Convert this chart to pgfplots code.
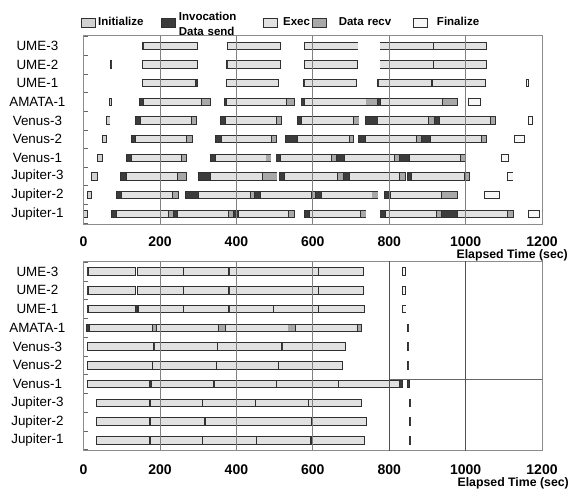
\documentclass[border=0pt]{standalone}
\usepackage{pgfplots}
\pgfplotsset{compat=1.18}
\usepackage{pgfplotstable}
\usepackage{fontspec}
\setmainfont{Liberation Sans}

\definecolor{bordercol}{HTML}{303030}
\definecolor{initcol}{HTML}{D2D2D2}
\definecolor{invcol}{HTML}{3C3C3C}
\definecolor{execcol}{HTML}{E1E1E1}
\definecolor{recvcol}{HTML}{A8A8A8}
\definecolor{fincol}{HTML}{F7F7F7}
\definecolor{gridcol}{HTML}{808080}
\definecolor{axiscol}{HTML}{8C8C8C}
\definecolor{darkgrid}{HTML}{505050}

% ---------------- top chart data (row, start, end) ----------------
\pgfplotstableread{
r s e
6 68 73
5 60 69
4 50 59
3 37 50
2 21 37
1 10.5 21
0 0 10.5
}\TopInit
\pgfplotstableread{
r s e
9 153 156.6
8 71 74
8 374 377
7 294 298
7 575.8 579
7 770 773
6 147 156
6 368 375
6 569 578
6 770 777
5 135 148
5 358.4 370.6
5 559 570.6
5 737.5 770.6
5 917.6 930.6
4 124.5 136
4 344.5 360
4 528.8 559.2
4 718.4 738.4
4 885.4 909
3 112.3 125.3
3 332.3 345.4
3 503.6 515.8
3 662.7 682.7
3 826.3 854
2 97.5 113.2
2 300 332.3
2 513 527
2 681 695.8
2 847 859.3
1 87 99.2
1 267 300
1 448 462.7
1 608 622
1 787 803
0 72.3 87
0 234.9 245.3
0 393.2 405
0 578.4 591.4
0 776 789.8
0 936 977.6
}\TopInv
\pgfplotstableread{
r s e
9 156.6 297.6
9 375.8 514.9
9 579.3 718.4
9 775.8 915
9 915 1055
8 153 297.6
8 377 515
8 579 718
8 776 915
8 915 1055
7 153 294
7 374 511.4
7 579 715
7 773 909.8
7 913 1052
6 156 309
6 375 532
6 578 739.3
6 777 939
5 148 283
5 370.6 504.5
5 570.6 706
5 770.6 902.8
5 930.6 1065.5
4 136 269.7
4 360 491.4
4 559.2 696
4 738.4 872.4
4 909 1042
3 125.3 256.7
3 345.4 477.5
3 515.8 649.7
3 682.7 813.2
3 854 987
2 113.2 245.3
2 332.3 468
2 527 664.5
2 695.8 828
2 859.3 996
1 99.2 233
1 300 436.6
1 462.7 595.8
1 622 755
1 803 937.6
0 87 221.9
0 245.3 378.4
0 405 537.5
0 591.4 724.5
0 789.8 923.7
0 977.6 1109
}\TopExec
\pgfplotstableread{
r s e
6 309 332
6 532 553
6 739.3 770
6 939 977.6
5 283 296
5 504.5 517.5
5 706 721
5 902.8 917.6
5 1065.5 1077.6
4 269.7 284.5
4 491.4 505.3
4 696 707
4 872.4 885.4
4 1042 1054
3 256.7 268.8
3 477.5 490.5
3 649.7 662.7
3 813.2 826.3
3 987 1000
2 245.3 269.7
2 468 506.2
2 664.5 681
2 828 842
2 996 1009
1 233 248.8
1 436.6 448
1 595.8 608
1 755 770.6
1 937.6 977.6
0 221.9 234.9
0 378.4 393.2
0 537.5 553.2
0 724.5 739.3
0 923.7 936
0 1109 1124.6
}\TopRecv
\pgfplotstableread{
r s e
7 1159 1164
6 1007 1040
5 1164.6 1174
4 1129 1154
3 1094 1112
2 1109 1124
1 1049 1089
0 1164 1194
}\TopFin

% ---------------- bottom chart data ----------------
\pgfplotstableread{
r s e
9 8.8 12.3
9 378.4 381
8 8.8 12.3
8 378.4 381
7 8.8 12.3
7 136.6 140
7 378.4 381
6 7 14.9
5 182.7 184.5
5 517.5 521.9
3 172.3 178.4
3 339.3 342
3 828 835
6 849 851.5
5 849 851.5
4 849 851.5
3 849 853
2 853 855.5
1 853 855.5
0 854 856.5
}\BotInv
\pgfplotstableread{
r s e
9 12.3 136.6
9 141 261
9 261 378.4
9 381 498.4
9 498.4 615.8
9 615.8 733
8 12.3 136.6
8 141 261
8 261 378.4
8 381 498.4
8 498.4 615.8
8 615.8 733
7 12.3 136.6
7 143.6 261
7 261 378.4
7 381 496.6
7 496.6 615.8
7 615.8 736
6 14.9 180
6 191.4 352.3
6 371.5 535
6 554 717.5
5 10.5 182.7
5 184.5 350.6
5 350.6 517.5
5 521.9 685.3
4 10.5 180
4 180 348
4 348 511.4
4 511.4 676.7
3 10.5 172.3
3 178.4 339.3
3 342 504.5
3 504.5 668
3 668 828
2 34.9 172.3
2 174 310.6
2 312 449.7
2 449.7 589.7
2 589.7 727
1 34.9 172.3
1 174 316
1 318 456.6
1 456.6 595.8
1 597.5 741
0 34.9 172.3
0 174 312
0 312 452.3
0 452.3 595
0 596.6 735.8
}\BotExec
\pgfplotstableread{
r s e
6 180 191.4
6 352.3 371.5
6 535 554
6 717.5 728
}\BotRecv
\pgfplotstableread{
r s e
9 835 843.7
8 835 843.7
7 835 844
}\BotFin

\newcommand{\segborder}[1]{%
  \addplot[draw=none, forget plot,
    error bars/.cd, x dir=plus, x explicit, error mark=none,
    error bar style={line width=8.4bp, color=bordercol}]
    table[x expr=\thisrow{s}-1.2, y=r, x error expr=\thisrow{e}-\thisrow{s}+2.4] {#1};}
\newcommand{\segfill}[2]{%
  \addplot[draw=none, forget plot,
    error bars/.cd, x dir=plus, x explicit, error mark=none,
    error bar style={line width=6.4bp, color=#2}]
    table[x expr=\thisrow{s}+1.2, y=r, x error expr=\thisrow{e}-\thisrow{s}-2.4] {#1};}

\pgfplotsset{gantt/.style={
  scale only axis, width=458.4bp, axis on top,
  xmin=0, xmax=1200, ymin=-0.55, ymax=9.55,
  xtick={0,200,400,600,800,1000,1200},
  xticklabels={0,200,400,600,800,1000,1200},
  ytick={0,1,2,3,4,5,6,7,8,9},
  yticklabels={Jupiter-1,Jupiter-2,Jupiter-3,Venus-1,Venus-2,Venus-3,AMATA-1,UME-1,UME-2,UME-3},
  minor ytick={-0.5,0.5,1.5,2.5,3.5,4.5,5.5,6.5,7.5,8.5,9.5},
  major tick length=0pt, minor tick length=4bp, tick align=inside, ytick pos=left,
  minor tick style={black!60, line width=0.6bp},
  xmajorgrids, major grid style={gridcol, line width=0.9bp},
  axis line style={axiscol, line width=0.9bp},
  xticklabel style={font=\bfseries\fontsize{14bp}{16bp}\selectfont, anchor=center},
  yticklabel style={font=\fontsize{13.4bp}{15bp}\selectfont, text width=92bp, align=center, inner sep=0pt},
  xlabel={Elapsed Time (sec)},
  xlabel style={font=\bfseries\fontsize{12.3bp}{14bp}\selectfont, anchor=east, inner sep=0pt},
}}

\begin{document}
\begin{tikzpicture}
\useasboundingbox (0,0) rectangle (571bp,-489bp);

\begin{axis}[gantt, height=188.3bp, at={(83.6bp,-224bp)}, anchor=south west,
  xticklabel style={yshift=-18bp},
  xlabel style={at={(axis description cs:1.0567,-0.1646)}},
  legend columns=5, legend cell align=left,
  legend style={draw=none, fill=none, inner sep=0pt, outer sep=0pt,
    at={(axis description cs:-0.0057,1.0848)}, anchor=west,
    column sep=0pt, row sep=0pt,
    nodes={inner sep=0pt, outer sep=0pt, align=left,
      font=\bfseries\fontsize{11.5bp}{15bp}\selectfont}},
]
\segborder{\TopInit}\segborder{\TopInv}\segborder{\TopExec}\segborder{\TopRecv}\segborder{\TopFin}
\segfill{\TopInit}{initcol}
\segfill{\TopInv}{invcol}
\segfill{\TopExec}{execcol}
\segfill{\TopRecv}{recvcol}
\segfill{\TopFin}{fincol}

\addlegendimage{legend image code/.code={\draw[draw=bordercol, line width=0.7bp, fill=initcol] (0bp,-4.5bp) rectangle (14bp,4.5bp);}}
\addlegendentry[text width=65bp]{\noindent\hspace*{2.5bp}Initialize}
\addlegendimage{legend image code/.code={\draw[draw=bordercol, line width=0.7bp, fill=invcol] (0bp,-4.5bp) rectangle (14bp,4.5bp);}}
\addlegendentry[text width=88bp, yshift=5.5bp]{\noindent\hspace*{3.5bp}Invocation\\\hspace*{3.5bp}Data send}
\addlegendimage{legend image code/.code={\draw[draw=bordercol, line width=0.7bp, fill=execcol] (0bp,-4.5bp) rectangle (14bp,4.5bp);}}
\addlegendentry[text width=34bp]{\noindent\hspace*{5bp}Exec}
\addlegendimage{legend image code/.code={\draw[draw=bordercol, line width=0.7bp, fill=recvcol] (0bp,-4.5bp) rectangle (14bp,4.5bp);}}
\addlegendentry[text width=86bp]{\noindent\hspace*{12bp}Data recv}
\addlegendimage{legend image code/.code={\draw[draw=bordercol, line width=0.7bp, fill=fincol] (0bp,-4.5bp) rectangle (14bp,4.5bp);}}
\addlegendentry[text width=60bp]{\noindent\hspace*{9.5bp}Finalize}
\end{axis}

\begin{axis}[gantt, height=189.4bp, at={(83.6bp,-450.7bp)}, anchor=south west,
  xticklabel style={yshift=-19.3bp},
  xlabel style={at={(axis description cs:1.0589,-0.1732)}},
  extra x ticks={800,1000}, extra x tick labels={},
  extra x tick style={grid=major, major grid style={darkgrid, line width=1bp}},
]
\segborder{\BotInv}\segborder{\BotExec}\segborder{\BotRecv}\segborder{\BotFin}
\segfill{\BotInv}{invcol}
\segfill{\BotExec}{execcol}
\segfill{\BotRecv}{recvcol}
\segfill{\BotFin}{fincol}
\addplot[draw=black!60, line width=0.8bp, forget plot] coordinates {(800,3.23) (1200,3.23)};
\end{axis}
\end{tikzpicture}
\end{document}
